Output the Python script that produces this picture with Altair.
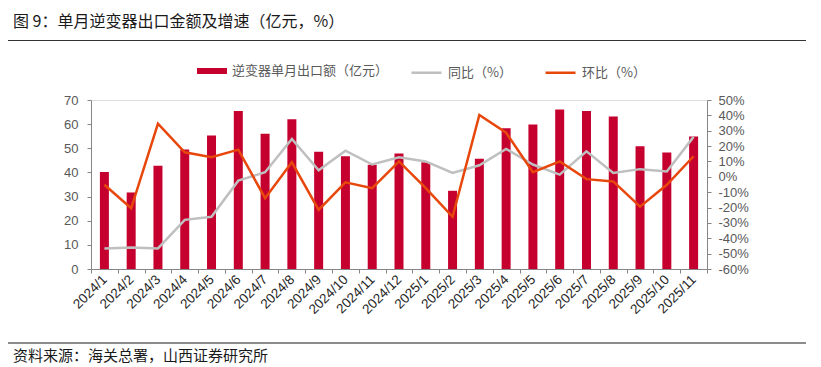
import altair as alt
import pandas as pd

title_text = ["图 9：单月逆变器出口金额及增速（亿元，%）"]
source_text = ["资料来源：海关总署，山西证券研究所"]

categories = ["2024/1", "2024/2", "2024/3", "2024/4", "2024/5", "2024/6", "2024/7", "2024/8",
              "2024/9", "2024/10", "2024/11", "2024/12", "2025/1", "2025/2", "2025/3", "2025/4",
              "2025/5", "2025/6", "2025/7", "2025/8", "2025/9", "2025/10", "2025/11"]
export_value = [40.2, 31.7, 42.8, 49.5, 55.3, 65.4, 56.0, 62.0, 48.6, 46.7, 43.2, 47.8,
                44.2, 32.4, 45.7, 58.3, 59.9, 66.1, 65.4, 63.2, 50.8, 48.3, 54.9]
yoy = [-46.6, -46.0, -46.6, -28.0, -26.0, -2.5, 3.0, 24.7, 4.2, 17.0, 8.0, 12.7,
       10.0, 2.5, 7.5, 18.2, 8.0, 1.4, 16.6, 2.5, 5.0, 3.5, 26.0]
mom = [-5.2, -20.5, 34.6, 16.0, 12.7, 17.7, -13.9, 9.4, -21.5, -3.6, -7.4, 10.0,
       -7.4, -26.0, 40.2, 28.7, 3.0, 10.0, -1.5, -3.0, -19.4, -5.2, 13.4]

bar_name = "逆变器单月出口额（亿元）"
yoy_name = "同比（%）"
mom_name = "环比（%）"

RED = "#C5002F"
GRAY = "#BFBFBF"
ORANGE = "#E8470C"
AXIS_GRAY = "#868686"
LABEL_GRAY = "#595959"
LATIN = "Liberation Sans, Arial, Noto Sans CJK SC"
CJK = "Noto Sans CJK SC"

bar_df = pd.DataFrame({"category": categories, "value": export_value, "series": bar_name})
line_df = pd.concat([
    pd.DataFrame({"category": categories, "value": yoy, "series": yoy_name}),
    pd.DataFrame({"category": categories, "value": mom, "series": mom_name}),
], ignore_index=True)

x_enc = alt.X(
    "category:N", sort=categories,
    scale=alt.Scale(paddingInner=0, paddingOuter=0),
    axis=alt.Axis(title=None, labelAngle=-45, labelAlign="right", labelBaseline="middle",
                  labelFontSize=13.5, labelFont=LATIN, labelColor="#262626",
                  domainColor=AXIS_GRAY, tickColor=AXIS_GRAY, tickSize=4, tickBand="extent",
                  labelPadding=4, grid=False, labelOverlap=False),
)

bars = alt.Chart(bar_df).mark_bar(size=9).encode(
    x=x_enc,
    y=alt.Y("value:Q", scale=alt.Scale(domain=[0, 70], nice=False, zero=True),
            axis=alt.Axis(orient="left", title=None, values=list(range(0, 71, 10)), grid=False,
                          domainColor=AXIS_GRAY, tickColor=AXIS_GRAY, tickSize=4,
                          labelColor=LABEL_GRAY, labelFontSize=13, labelFont=LATIN,
                          labelPadding=9)),
    fill=alt.Fill("series:N", scale=alt.Scale(domain=[bar_name], range=[RED]),
                  legend=alt.Legend(orient="none", legendX=106, legendY=-44, title=None,
                                    symbolType="M-1,-0.2H1V0.2H-1Z", symbolSize=900,
                                    symbolStrokeWidth=0,
                                    labelFont=CJK, labelFontSize=13, labelColor=LABEL_GRAY,
                                    labelOffset=5, padding=0)),
)

lines = alt.Chart(line_df).mark_line(strokeWidth=2.5).encode(
    x=x_enc,
    y=alt.Y("value:Q", scale=alt.Scale(domain=[-60, 50], nice=False, zero=False),
            axis=alt.Axis(orient="right", title=None, values=list(range(-60, 51, 10)), grid=False,
                          labelExpr="datum.value + '%'",
                          domainColor=AXIS_GRAY, tickColor=AXIS_GRAY, tickSize=4,
                          labelColor=LABEL_GRAY, labelFontSize=13, labelFont=LATIN,
                          labelPadding=7)),
    stroke=alt.Stroke("series:N", scale=alt.Scale(domain=[yoy_name, mom_name], range=[GRAY, ORANGE]),
                      legend=alt.Legend(orient="none", legendX=319, legendY=-44, title=None,
                                        direction="horizontal", symbolType="stroke",
                                        symbolSize=900, symbolStrokeWidth=2.5,
                                        labelFont=CJK, labelFontSize=13, labelColor=LABEL_GRAY,
                                        labelOffset=5, columnPadding=28, padding=0)),
    order=alt.Order("series:N", sort="descending"),
)

title = alt.Chart(pd.DataFrame({"t": title_text})).mark_text(
    align="left", baseline="alphabetic", fontSize=16, font=CJK, color="#1a1a1a"
).encode(x=alt.value(-78), y=alt.value(-73), text="t:N")

source = alt.Chart(pd.DataFrame({"t": source_text})).mark_text(
    align="left", baseline="alphabetic", fontSize=15, font=CJK, color="#1a1a1a"
).encode(x=alt.value(-78), y=alt.value(261), text="t:N")

top_rule = alt.Chart(pd.DataFrame({"k": [1]})).mark_rule(color="#333333", strokeWidth=1).encode(
    x=alt.value(-83), x2=alt.value(715), y=alt.value(-59.5))

bottom_rule = alt.Chart(pd.DataFrame({"k": [1]})).mark_rule(color="#8c8c8c", strokeWidth=2).encode(
    x=alt.value(-83), x2=alt.value(715), y=alt.value(243))

chart = alt.layer(bars, lines, title, source, top_rule, bottom_rule).resolve_scale(
    y="independent"
).properties(
    width=616, height=169,
    autosize=alt.AutoSizeParams(type="none"),
    padding={"left": 83, "top": 92, "right": 106, "bottom": 97},
).configure_view(stroke=None).configure(background="white")

chart.save("out.html", embed_options={"renderer": "svg", "actions": False})
